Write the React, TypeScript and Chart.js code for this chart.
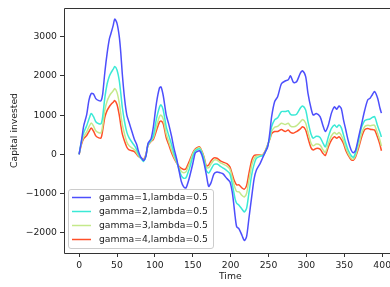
import React, { useEffect, useRef } from "react";
import { Chart, registerables } from "chart.js";

Chart.register(...registerables);

const FONT = '"DejaVu Sans", sans-serif';
const FONT_SIZE = 9.25;

const TIME = [
  0, 3, 6, 10, 13, 16, 19, 22, 26, 29,
  31, 34, 37, 40, 42, 45, 47, 50, 53, 55,
  57, 60, 63, 66, 70, 73, 76, 78, 81, 83,
  85, 88, 91, 95, 98, 102, 106, 108, 111, 115,
  118, 122, 125, 129, 132, 135, 138, 141, 144, 146,
  150, 153, 155, 159, 162, 165, 168, 171, 174, 178,
  182, 186, 190, 195, 199, 202, 204, 206, 208, 211,
  215, 218, 221, 224, 228, 231, 234, 239, 242, 245,
  249, 252, 254, 258, 262, 267, 272, 276, 279, 283,
  287, 292, 295, 299, 302, 306, 309, 313, 318, 322,
  325, 329, 333, 337, 340, 343, 346, 349, 352, 355,
  359, 362, 365, 369, 373, 377, 381, 384, 387, 390,
  394, 397, 399,
];

const gamma1 = [
  0, 330, 720, 1010, 1380, 1550, 1540, 1420, 1370, 1370,
  1520, 2100, 2580, 2950, 3080, 3290, 3450, 3340, 3000, 2590,
  2050, 1420, 1000, 810, 560, 380, 250, 100, -60, -110,
  -160, -60, 280, 400, 700, 1300, 1690, 1720, 1500, 1000,
  790, 460, 170, -140, -430, -700, -830, -860, -700, -560,
  -240, 20, 60, 90, -20, -240, -530, -820, -730, -500,
  -450, -470, -500, -620, -700, -950, -1250, -1600, -1850, -1900,
  -2070, -2200, -2100, -1650, -1050, -620, -400, -230, -100, 30,
  200, 600, 950, 1340, 1470, 1800, 1870, 1900, 2000, 1830,
  1850, 2070, 2130, 1980, 1560, 1180, 1000, 1040, 960, 720,
  580, 750, 1050, 1210, 1150, 1230, 1170, 870, 620, 360,
  110, 40, 110, 450, 790, 1130, 1390, 1430, 1520, 1600,
  1430, 1180, 1050,
];

const gamma2 = [
  0, 330, 550, 730, 900, 1040, 960, 830, 780, 780,
  950, 1450, 1800, 2000, 2080, 2170, 2240, 2150, 1880, 1560,
  1200, 830, 560, 420, 300, 220, 120, 20, -90, -140,
  -180, -60, 250, 360, 480, 900, 1200, 1260, 1130, 700,
  500, 250, 30, -200, -400, -550, -610, -600, -450, -340,
  -60, 80, 110, 140, 40, -150, -420, -480, -390, -260,
  -250, -300, -350, -420, -500, -750, -950, -1150, -1250, -1300,
  -1400, -1470, -1380, -1000, -500, -250, -100, -50, -40, 30,
  230, 450, 700, 880, 930, 1090, 1090, 1110, 1020, 1000,
  1020, 1180, 1230, 1130, 840, 520, 410, 460, 430, 280,
  190, 450, 660, 750, 690, 750, 680, 490, 280, 110,
  -30, -80, 60, 380, 700, 860, 890, 900, 940, 960,
  720, 560, 440,
];

const gamma3 = [
  0, 280, 450, 570, 700, 800, 720, 600, 550, 550,
  720, 1130, 1360, 1490, 1550, 1620, 1680, 1580, 1310, 1030,
  760, 510, 310, 220, 160, 120, 40, -25, -90, -125,
  -150, -35, 240, 340, 420, 710, 960, 1000, 900, 520,
  340, 110, -50, -220, -340, -440, -470, -450, -310, -220,
  5, 110, 140, 170, 65, -105, -340, -340, -250, -150,
  -150, -210, -250, -300, -380, -590, -740, -870, -950, -960,
  -1050, -1090, -1000, -680, -270, -110, -50, -30, -30, 50,
  240, 420, 580, 690, 710, 790, 760, 790, 720, 700,
  730, 830, 890, 800, 570, 290, 215, 260, 235, 110,
  50, 280, 470, 555, 510, 555, 485, 350, 165, 25,
  -100, -125, -20, 240, 540, 710, 740, 730, 740, 740,
  530, 360, 210,
];

const gamma4 = [
  0, 250, 400, 480, 580, 670, 590, 470, 420, 420,
  600, 950, 1120, 1220, 1270, 1330, 1370, 1270, 1000, 740,
  520, 330, 180, 110, 90, 65, 0, -50, -90, -115,
  -135, -20, 230, 330, 380, 600, 820, 850, 780, 420,
  260, 40, -90, -230, -310, -360, -385, -370, -240, -150,
  40, 130, 160, 190, 80, -80, -300, -270, -170, -90,
  -100, -160, -200, -240, -320, -500, -630, -720, -780, -780,
  -860, -890, -800, -500, -140, -30, -20, -20, -20, 60,
  250, 400, 520, 580, 580, 630, 580, 620, 560, 540,
  580, 650, 700, 620, 420, 170, 110, 150, 130, 20,
  -30, 190, 360, 450, 410, 450, 380, 270, 100, -20,
  -140, -150, -60, 170, 450, 630, 660, 640, 630, 620,
  430, 250, 90,
];

const SERIES_LABELS = [
  "gamma=1,lambda=0.5",
  "gamma=2,lambda=0.5",
  "gamma=3,lambda=0.5",
  "gamma=4,lambda=0.5",
];
const SERIES_COLORS = ["#4d4ffc", "#3be9d6", "#c4e98b", "#ff4f28"];
const X_TICKS = [0, 50, 100, 150, 200, 250, 300, 350, 400];
const Y_TICKS = [-2000, -1000, 0, 1000, 2000, 3000];
const X_TITLE = "Time";
const Y_TITLE = "Capital invested";

const fmt = (v: number) => (v < 0 ? "\u2212" + Math.abs(v) : String(v));

const decorPlugin = {
  id: "decor",
  afterDraw(chart: any) {
    const { ctx, chartArea } = chart;
    const { left, top, right, bottom } = chartArea;
    ctx.save();
    // spines
    ctx.strokeStyle = "#333";
    ctx.lineWidth = 1;
    ctx.beginPath();
    ctx.moveTo(left + 0.5, bottom + 0.5);
    ctx.lineTo(left + 0.5, top + 0.5);
    ctx.lineTo(right + 2, top + 0.5);
    ctx.moveTo(left + 0.5, bottom + 0.5);
    ctx.lineTo(right + 2, bottom + 0.5);
    ctx.stroke();

    // axis titles
    ctx.fillStyle = "#222";
    ctx.font = `${FONT_SIZE}px ${FONT}`;
    ctx.textAlign = "center";
    ctx.textBaseline = "middle";
    const xs = chart.scales.x;
    const cx = (xs.getPixelForValue(-19.95) + xs.getPixelForValue(418.95)) / 2;
    ctx.fillText(X_TITLE, cx, 276.5);
    ctx.save();
    ctx.translate(15, (top + bottom) / 2);
    ctx.rotate(-Math.PI / 2);
    ctx.fillText(Y_TITLE, 0, 0);
    ctx.restore();

    // legend
    const bx = 68.5, by = 189.5, bw = 145, bh = 59, r = 2.5;
    ctx.beginPath();
    ctx.moveTo(bx + r, by);
    ctx.lineTo(bx + bw - r, by);
    ctx.quadraticCurveTo(bx + bw, by, bx + bw, by + r);
    ctx.lineTo(bx + bw, by + bh - r);
    ctx.quadraticCurveTo(bx + bw, by + bh, bx + bw - r, by + bh);
    ctx.lineTo(bx + r, by + bh);
    ctx.quadraticCurveTo(bx, by + bh, bx, by + bh - r);
    ctx.lineTo(bx, by + r);
    ctx.quadraticCurveTo(bx, by, bx + r, by);
    ctx.closePath();
    ctx.fillStyle = "rgba(255,255,255,0.8)";
    ctx.fill();
    ctx.strokeStyle = "#cccccc";
    ctx.stroke();

    ctx.textAlign = "left";
    chart.data.datasets.forEach((ds: any, i: number) => {
      const y = 197.5 + i * 14;
      ctx.strokeStyle = ds.borderColor;
      ctx.lineWidth = 1.5;
      ctx.beginPath();
      ctx.moveTo(72, y);
      ctx.lineTo(91, y);
      ctx.stroke();
      ctx.fillStyle = "#222";
      ctx.fillText(ds.label, 99, y + 0.5);
    });
    ctx.restore();
  },
};

export default function App() {
  const ref = useRef<HTMLCanvasElement>(null);
  useEffect(() => {
    const canvas = ref.current;
    if (!canvas) return;
    const allSeries = [gamma1, gamma2, gamma3, gamma4];
    const datasets = allSeries.map((arr, k) => ({
      label: SERIES_LABELS[k],
      data: TIME.map((t, i) => ({ x: t, y: arr[i] })),
      borderColor: SERIES_COLORS[k],
      backgroundColor: SERIES_COLORS[k],
      borderWidth: 1.5,
      pointRadius: 0,
      tension: 0.25,
      fill: false,
    }));
    const tickFont = { family: FONT, size: FONT_SIZE };
    const chart = new Chart(canvas, {
      type: "line",
      data: { datasets },
      options: {
        animation: false,
        responsive: false,
        devicePixelRatio: 1,
        layout: { padding: { top: 8, left: 0, right: 0, bottom: 0 } },
        plugins: {
          legend: { display: false },
          tooltip: { enabled: false },
          title: { display: false },
        },
        scales: {
          x: {
            type: "linear",
            min: -19.95,
            max: 410.3,
            afterBuildTicks: (s: any) => {
              s.ticks = X_TICKS.map((v) => ({ value: v }));
            },
            afterFit: (s: any) => {
              s.height = 34;
              s.paddingLeft = 0;
              s.paddingRight = 0;
            },
            grid: {
              drawOnChartArea: false,
              drawTicks: true,
              tickLength: 4,
              color: "#333",
              lineWidth: 1,
            },
            border: { display: false },
            ticks: {
              font: tickFont,
              color: "#222",
              padding: 3,
              maxRotation: 0,
              autoSkip: false,
              callback: (v: any) => fmt(Number(v)),
            },
          },
          y: {
            type: "linear",
            min: -2518,
            max: 3732,
            afterBuildTicks: (s: any) => {
              s.ticks = Y_TICKS.map((v) => ({ value: v }));
            },
            afterFit: (s: any) => {
              s.width = 64;
              s.paddingTop = 0;
              s.paddingBottom = 0;
            },
            grid: {
              drawOnChartArea: false,
              drawTicks: true,
              tickLength: 4,
              color: "#333",
              lineWidth: 1,
            },
            border: { display: false },
            ticks: {
              font: tickFont,
              color: "#222",
              padding: 3,
              autoSkip: false,
              callback: (v: any) => fmt(Number(v)),
            },
          },
        },
      } as any,
      plugins: [decorPlugin],
    });
    return () => chart.destroy();
  }, []);
  return (
    <div style={{ position: "absolute", left: 0, top: 0, width: 390, height: 287, background: "#fff" }}>
      <canvas ref={ref} width={390} height={287} style={{ display: "block", width: 390, height: 287 }} />
    </div>
  );
}
